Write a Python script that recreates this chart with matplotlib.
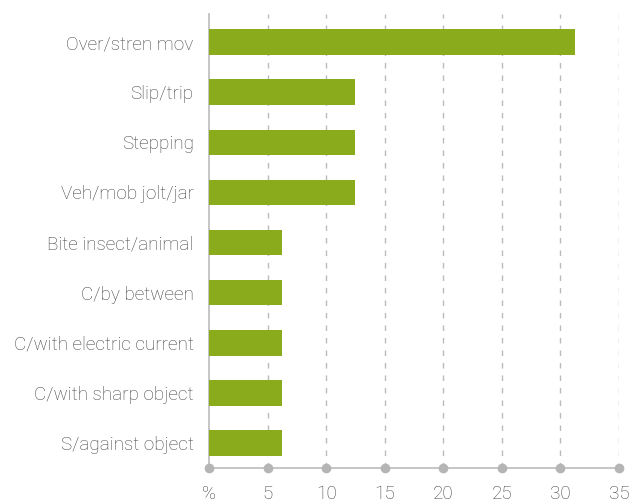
import matplotlib.pyplot as plt

categories = ['Over/stren mov', 'Slip/trip', 'Stepping', 'Veh/mob jolt/jar',
              'Bite insect/animal', 'C/by between', 'C/with electric current',
              'C/with sharp object', 'S/against object']
values = [31.25, 12.5, 12.5, 12.5, 6.25, 6.25, 6.25, 6.25, 6.25]
xticks = [0, 5, 10, 15, 20, 25, 30, 35]
xtick_labels = ['%', '5', '10', '15', '20', '25', '30', '35']

plt.rcParams['font.family'] = ['Roboto', 'DejaVu Sans']
plt.rcParams['font.weight'] = 'light'

fig = plt.figure(figsize=(6.43, 5.04), dpi=100)
ax = fig.add_axes([0.325, 0.0714, 0.6377, 0.9008])

pos = list(range(len(categories)))
ax.barh(pos, values, height=0.51, color='#8aab1b', zorder=3)

ax.set_xlim(0, 35)
ax.set_ylim(8.5, -0.56)
ax.set_xticks(xticks)
ax.set_xticklabels(xtick_labels)
ax.set_yticks(pos)
ax.set_yticklabels(categories)

for x in xticks[1:]:
    ax.axvline(x, color='#bbbbbb', linestyle=(0, (4, 5)), linewidth=1, zorder=1)

for s in ['top', 'right']:
    ax.spines[s].set_visible(False)
ax.spines['left'].set_color('#bbbbbb')
ax.spines['bottom'].set_color('#bbbbbb')
ax.spines['left'].set_linewidth(1.2)
ax.spines['bottom'].set_linewidth(1.2)

ax.plot(xticks, [8.5] * len(xticks), 'o', color='#b5b5b5', markersize=6,
        clip_on=False, zorder=4)

ax.tick_params(axis='both', length=0, labelsize=13.6, labelcolor='#444444')
ax.tick_params(axis='x', pad=12)
ax.tick_params(axis='y', pad=11)

fig.savefig('out.png', dpi=100)
